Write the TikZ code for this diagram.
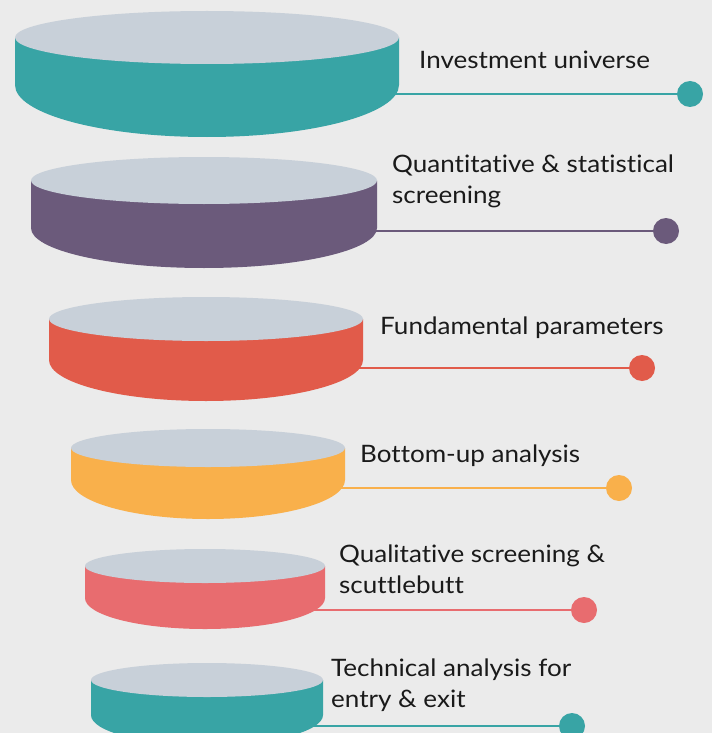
\documentclass[tikz,border=0pt]{standalone}
\usepackage{fontspec}
\setmainfont{Lato}[Ligatures=NoCommon,FakeStretch=1.085]
\definecolor{bgc}{HTML}{EBEBEB}
\definecolor{topc}{HTML}{C8D0D9}
\definecolor{tealc}{HTML}{38A4A5}
\definecolor{purplec}{HTML}{6B5A7B}
\definecolor{redc}{HTML}{E15B4A}
\definecolor{orangec}{HTML}{F9B04B}
\definecolor{pinkc}{HTML}{E86C6F}
\definecolor{txtc}{HTML}{1A1A1A}
\newcommand\drawdisk[7]{% cx, rx, ytop, ryt, yside, ryb, color
  \fill[#7] (#1-#2,#3) -- (#1-#2,#5) arc[start angle=180,end angle=360,x radius=#2,y radius=#6] -- (#1+#2,#3) -- cycle;
  \fill[topc] (#1,#3) ellipse[x radius=#2,y radius=#4];
}
\tikzset{
  dot/.style={circle,inner sep=0pt,minimum size=26pt},
  lbl/.style={anchor=base west,align=left,inner sep=0pt,text=txtc,font=\fontsize{24}{31}\selectfont},
  conn/.style={line width=2pt}
}
\begin{document}
\begin{tikzpicture}[x=1pt,y=1pt]
\fill[bgc] (0,0) rectangle (712,-733);
\useasboundingbox (0,0) rectangle (712,-733);
% disk 1
\coordinate (c1) at (207,-94);
\node[dot,fill=tealc] (p1) at (690,-94) {};
\draw[conn,tealc] (c1) -- (p1);
\drawdisk{207}{192}{-37.5}{26.5}{-85}{52}{tealc}
\node[lbl] (t1) at (419,-69) {Investment universe};
% disk 2
\coordinate (c2) at (204,-231);
\node[dot,fill=purplec] (p2) at (666,-231) {};
\draw[conn,purplec] (c2) -- (p2);
\drawdisk{204}{173}{-180.5}{23.5}{-228}{40}{purplec}
\node[lbl] (t2) at (392,-203) {Quantitative \& statistical\\screening};
% disk 3
\coordinate (c3) at (206,-368);
\node[dot,fill=redc] (p3) at (642,-368) {};
\draw[conn,redc] (c3) -- (p3);
\drawdisk{206}{157}{-319}{22}{-360}{41}{redc}
\node[lbl] (t3) at (380,-334) {Fundamental parameters};
% disk 4
\coordinate (c4) at (208,-488);
\node[dot,fill=orangec] (p4) at (619,-488) {};
\draw[conn,orangec] (c4) -- (p4);
\drawdisk{208}{137}{-448}{19}{-480}{39}{orangec}
\node[lbl] (t4) at (360,-462) {Bottom-up analysis};
% disk 5
\coordinate (c5) at (205,-610);
\node[dot,fill=pinkc] (p5) at (584,-610) {};
\draw[conn,pinkc] (c5) -- (p5);
\drawdisk{205}{120}{-566}{17}{-598}{31}{pinkc}
\node[lbl] (t5) at (339,-593) {Qualitative screening \&\\scuttlebutt};
% disk 6
\coordinate (c6) at (207,-726);
\node[dot,fill=tealc] (p6) at (572,-726) {};
\draw[conn,tealc] (c6) -- (p6);
\drawdisk{207}{116}{-680}{17}{-715}{30}{tealc}
\node[lbl] (t6) at (331,-707) {Technical analysis for\\entry \& exit};
\end{tikzpicture}
\end{document}
